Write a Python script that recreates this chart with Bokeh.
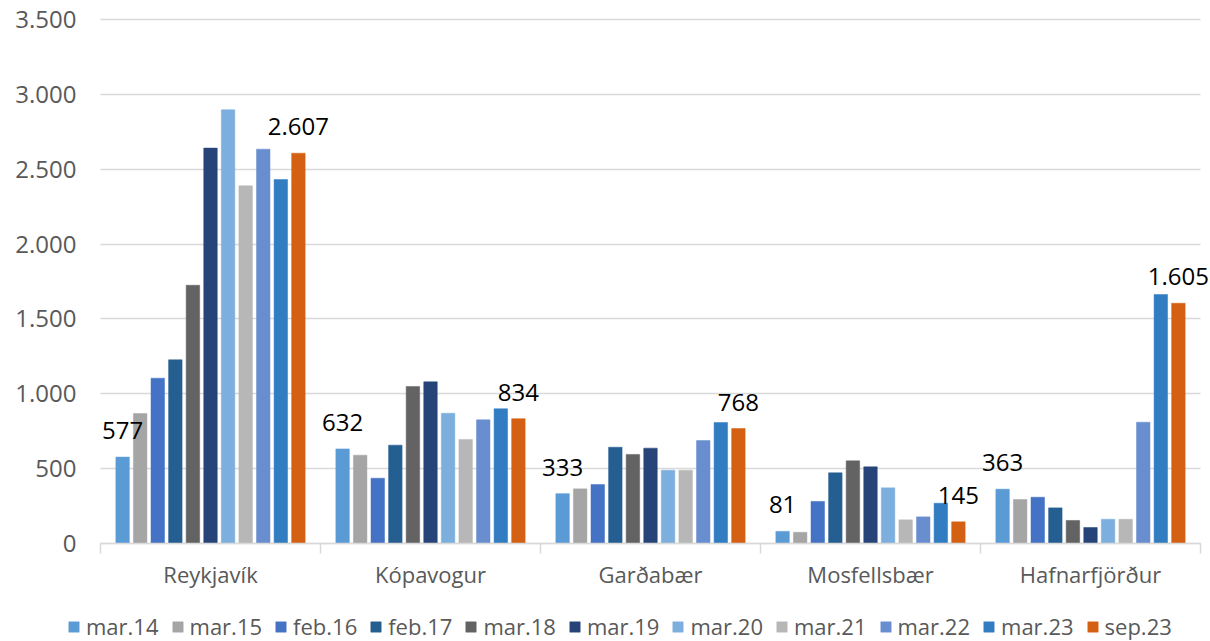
from bokeh.plotting import figure
from bokeh.models import (ColumnDataSource, Range1d, FixedTicker, Legend, LegendItem, LabelSet)
from bokeh.core.properties import value
from bokeh.embed import file_html
from bokeh.resources import INLINE

towns = ["Reykjavík", "Kópavogur", "Garðabær", "Mosfellsbær", "Hafnarfjörður"]
periods = ["mar.14", "mar.15", "feb.16", "feb.17", "mar.18", "mar.19",
           "mar.20", "mar.21", "mar.22", "mar.23", "sep.23"]

mar14 = [577, 632, 333, 81, 363]
mar15 = [868, 590, 365, 75, 294]
feb16 = [1104, 436, 394, 281, 309]
feb17 = [1227, 657, 643, 472, 238]
mar18 = [1725, 1049, 595, 552, 154]
mar19 = [2641, 1080, 637, 512, 107]
mar20 = [2897, 870, 490, 372, 162]
mar21 = [2389, 695, 490, 158, 162]
mar22 = [2634, 826, 688, 178, 810]
mar23 = [2431, 900, 808, 269, 1663]
sep23 = [2607, 834, 768, 145, 1605]

series = [mar14, mar15, feb16, feb17, mar18, mar19, mar20, mar21, mar22, mar23, sep23]
colors = ["#5B9BD5", "#A5A5A5", "#4472C4", "#255E91", "#636363", "#264478",
          "#7CAFDD", "#B7B7B7", "#698ED0", "#327DC2", "#D46113"]
labelled = [0, 10]  # series with data labels

y_ticks = [0, 500, 1000, 1500, 2000, 2500, 3000, 3500]
Y_MAX = 3500

FONT = "Open Sans"
GRID = "#D9D9D9"

# layout (pixels): plot area 100..1200 x 19..543
W, H = 1210, 641
PL, PR, PT, PB = 100, 1200, 19, 543
ng = len(towns)
px_per_x = (PR - PL) / ng
px_per_y = (PB - PT) / Y_MAX
x_range = Range1d(-PL / px_per_x, ng + (W - PR) / px_per_x)
y_range = Range1d(-(H - PB) / px_per_y, Y_MAX + PT / px_per_y)

p = figure(width=W, height=H, output_backend="svg", toolbar_location=None,
           x_range=x_range, y_range=y_range, min_border=0,
           min_border_left=0, min_border_right=0, min_border_top=0,
           min_border_bottom=0)
p.outline_line_color = None
p.background_fill_color = "white"
p.border_fill_color = "white"

n = len(periods)
step = 17.58 / px_per_x
bar_w = 13.5 / px_per_x

def fmt(v):
    return f"{v:,}".replace(",", ".")

items = []
label_sources = []
for j, (name, vals, col) in enumerate(zip(periods, series, colors)):
    xs = [i + 0.5 + (j - (n - 1) / 2) * step for i in range(ng)]
    src = ColumnDataSource(dict(x=xs, top=vals, lab=[fmt(v) for v in vals]))
    r = p.vbar(x="x", top="top", width=bar_w, source=src, fill_color=col,
               line_color=col, line_width=0.5)
    items.append(LegendItem(label=name, renderers=[r]))
    if j in labelled:
        label_sources.append(src)

for src in label_sources:
    p.add_layout(LabelSet(x="x", y="top", text="lab", source=src,
                          text_align="center", text_baseline="alphabetic",
                          y_offset=18, text_font=value(FONT),
                          text_font_size=value("24px"),
                          text_color=value("#000000")))

# y axis
yax = p.yaxis[0]
yax.fixed_location = 0
yax.bounds = (0, Y_MAX)
yax.ticker = FixedTicker(ticks=y_ticks)
yax.major_label_overrides = {t: fmt(t) for t in y_ticks}
yax.axis_line_color = None
yax.major_tick_line_color = None
yax.minor_tick_line_color = None
yax.major_tick_out = 0
yax.major_tick_in = 0
yax.major_label_standoff = 24
yax.major_label_text_font = FONT
yax.major_label_text_font_size = "24px"
yax.major_label_text_color = "#595959"

# x axis
xax = p.xaxis[0]
xax.fixed_location = 0
xax.bounds = (0, ng)
xax.ticker = FixedTicker(ticks=[i + 0.5 for i in range(ng)],
                         minor_ticks=list(range(ng + 1)))
xax.major_label_overrides = {i + 0.5: t for i, t in enumerate(towns)}
xax.axis_line_color = GRID
xax.axis_line_width = 1.5
xax.major_tick_line_color = None
xax.major_tick_out = 0
xax.major_tick_in = 0
xax.minor_tick_line_color = GRID
xax.minor_tick_line_width = 1.5
xax.minor_tick_out = 10
xax.minor_tick_in = 0
xax.major_label_standoff = 5
xax.major_label_text_font = FONT
xax.major_label_text_font_size = "22px"
xax.major_label_text_color = "#595959"

p.xgrid.grid_line_color = None
p.ygrid.grid_line_color = GRID
p.ygrid.grid_line_width = 1.5
p.ygrid.ticker = FixedTicker(ticks=y_ticks)
p.ygrid.cross_bounds = (0, ng)

legend = Legend(items=items, orientation="horizontal", location=(67, 0),
                label_text_font=FONT, label_text_font_size="22px",
                label_text_color="#595959", glyph_width=13, glyph_height=13,
                label_standoff=6, spacing=12, padding=0, margin=0,
                label_height=20, border_line_color=None,
                background_fill_alpha=0)
p.add_layout(legend, "center")

open("out.html", "w").write(file_html(p, INLINE))
